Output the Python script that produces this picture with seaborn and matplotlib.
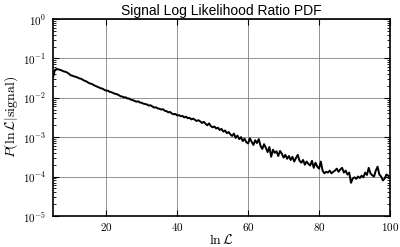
import numpy as np
import pandas as pd
import seaborn as sns
import matplotlib.pyplot as plt
from matplotlib.ticker import FuncFormatter

# bin centres of ln L (0.5 wide bins)
ln_l = np.arange(5.0, 100.5, 0.5)

# log10 of P(ln L | signal)
log_p = [
    -1.49, -1.30, -1.27, -1.28, -1.29, -1.31, -1.33, -1.34, -1.36, -1.39,
    -1.43, -1.44, -1.46, -1.47, -1.49, -1.51, -1.52, -1.55, -1.57, -1.59,
    -1.62, -1.64, -1.65, -1.68, -1.70, -1.72, -1.74, -1.76, -1.77, -1.80,
    -1.82, -1.82, -1.85, -1.86, -1.88, -1.90, -1.91, -1.93, -1.96, -1.97,
    -1.99, -1.99, -2.02, -2.02, -2.05, -2.06, -2.08, -2.10, -2.09, -2.12,
    -2.13, -2.15, -2.16, -2.17, -2.20, -2.19, -2.22, -2.25, -2.24, -2.27,
    -2.28, -2.30, -2.29, -2.33, -2.34, -2.37, -2.36, -2.40, -2.42, -2.41,
    -2.45, -2.44, -2.47, -2.46, -2.50, -2.48, -2.52, -2.51, -2.55, -2.53,
    -2.56, -2.59, -2.57, -2.60, -2.64, -2.61, -2.66, -2.70, -2.65, -2.72,
    -2.75, -2.73, -2.78, -2.76, -2.82, -2.79, -2.86, -2.83, -2.90, -2.87,
    -2.93, -2.97, -2.91, -3.02, -2.96, -3.05, -3.00, -3.10, -3.04, -3.13,
    -3.16, -3.03, -3.12, -3.20, -3.08, -3.15, -3.05, -3.22, -3.30, -3.18,
    -3.27, -3.38, -3.25, -3.50, -3.32, -3.40, -3.36, -3.48, -3.35, -3.42,
    -3.52, -3.45, -3.55, -3.48, -3.58, -3.50, -3.62, -3.53, -3.45, -3.60,
    -3.65, -3.58, -3.70, -3.62, -3.68, -3.72, -3.60, -3.78, -3.65, -3.75,
    -3.80, -3.62, -3.85, -3.92, -3.88, -3.90, -3.85, -3.92, -3.88, -3.85,
    -3.80, -3.88, -3.82, -3.78, -3.90, -3.85, -3.95, -3.90, -4.16, -4.05,
    -4.02, -4.06, -4.00, -4.04, -3.98, -4.02, -3.90, -3.96, -3.78, -3.92,
    -3.97, -4.00, -3.85, -3.75, -3.95, -4.00, -4.10, -4.05, -3.95, -3.98,
    -4.02,
]

x_ticks = [20, 40, 60, 80, 100]

df = pd.DataFrame({"lnL": ln_l, "P": 10 ** np.array(log_p)})

sns.set_style("ticks")
plt.rcParams["font.family"] = ["Liberation Sans", "DejaVu Sans"]
plt.rcParams["mathtext.fontset"] = "cm"
plt.rcParams["text.color"] = "black"
plt.rcParams["axes.labelcolor"] = "black"
plt.rcParams["xtick.color"] = "black"
plt.rcParams["ytick.color"] = "black"
plt.rcParams["axes.edgecolor"] = "black"

fig, ax = plt.subplots(figsize=(4, 2.47), dpi=100)
fig.subplots_adjust(left=0.1325, right=0.975, top=0.923, bottom=0.126)

sns.lineplot(data=df, x="lnL", y="P", color="black", linewidth=1.4, ax=ax)

ax.set_yscale("log")
ax.set_xlim(5, 100)
ax.set_ylim(1e-5, 1)
ax.set_xticks(x_ticks)
ax.xaxis.set_major_formatter(FuncFormatter(lambda v, p: r"$%d$" % v))
ax.yaxis.set_major_formatter(FuncFormatter(lambda v, p: r"$10^{%d}$" % round(np.log10(v))))

ax.grid(True, which="major", color="0.5", linewidth=0.6)
ax.tick_params(which="both", direction="in", top=True, right=True, labelsize=8)
ax.tick_params(axis="x", pad=4)
ax.tick_params(axis="y", pad=5)
ax.tick_params(which="major", length=4, width=0.8)
ax.tick_params(which="minor", length=2, width=0.6)
for s in ax.spines.values():
    s.set_linewidth(1.2)

ax.set_title("Signal Log Likelihood Ratio PDF", fontsize=10, pad=3)
ax.set_xlabel(r"$\ln\mathcal{L}$", fontsize=10, labelpad=0)
ax.set_ylabel(r"$P(\ln\mathcal{L}|\mathrm{signal})$", fontsize=10, labelpad=2)

plt.savefig("out.png", dpi=100)
